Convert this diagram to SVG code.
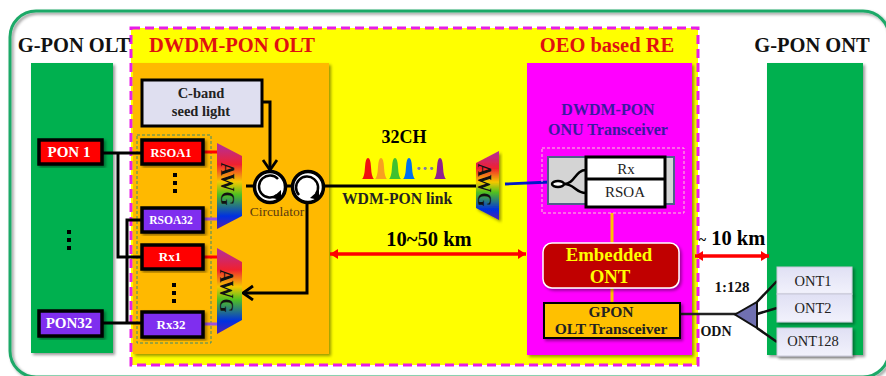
<svg xmlns="http://www.w3.org/2000/svg" xmlns:xlink="http://www.w3.org/1999/xlink" width="886" height="376" viewBox="0 0 886 376">
<style>
text{font-family:"Liberation Serif","Times New Roman",serif;font-weight:700;text-anchor:middle}
.box{stroke:#000;stroke-width:3.5}
.red{fill:#f00}.pur{fill:#7f2fef}
.wt{fill:#fff;font-size:15px}
.wts{fill:#fff;font-size:12.5px}
.ln{fill:none;stroke:#000;stroke-width:3}
.awgt{font-size:18px;fill:#111}
.ont{fill:url(#og);stroke:#c8c8d8;stroke-width:1}
.title{font-size:20.5px}
.reg{font-weight:400;fill:#222}
.dot{fill:#000}
</style>
<defs>
<linearGradient id="rb" x1="0" y1="0" x2="0" y2="1">
<stop offset="0" stop-color="#b02fa0"/><stop offset=".25" stop-color="#f02030"/><stop offset=".45" stop-color="#f5c800"/><stop offset=".6" stop-color="#50c020"/><stop offset=".85" stop-color="#0030e0"/><stop offset="1" stop-color="#5020b0"/>
</linearGradient>
<linearGradient id="og" x1="0" y1="0" x2="0" y2="1"><stop offset="0" stop-color="#e0e0f4"/><stop offset="1" stop-color="#f2f2fc"/></linearGradient>
<filter id="sh" x="-10%" y="-10%" width="125%" height="125%"><feDropShadow dx="2" dy="2" stdDeviation="1.5" flood-color="#000" flood-opacity=".4"/></filter>
<marker id="ah" markerWidth="14" markerHeight="18" refX="11" refY="8" orient="auto" markerUnits="userSpaceOnUse"><path d="M1 1L11 8L1 15" fill="none" stroke="#000" stroke-width="2.8"/></marker>
<marker id="re" markerWidth="10" markerHeight="12" refX="8" refY="5" orient="auto-start-reverse" markerUnits="userSpaceOnUse"><path d="M0 0L8 5L0 10z" fill="#f00"/></marker>
<path id="peak" d="M0 21Q2.500 19 3 9Q3.500 0 6 0Q8.500 0 9 9Q9.500 19 12 21z"/>
</defs>
<rect width="886" height="376" fill="#fff"/>
<rect id="frame" x="10" y="11" width="879" height="366" rx="26" fill="none" stroke="#1fa968" stroke-width="3" filter="url(#sh)"/>
<g id="dwdm-region">
<rect x="131" y="28" width="567" height="337" fill="#ff0" stroke="#e81ce8" stroke-width="3" stroke-dasharray="9 5"/>
</g>
<g id="gpon-olt">
<rect x="31" y="63" width="82" height="290" fill="#00b050" filter="url(#sh)"/>
<text class="title" x="74" y="52" fill="#111">G-PON OLT</text>
<rect class="dot" x="67" y="230" width="4" height="4"/><rect class="dot" x="67" y="238" width="4" height="4"/><rect class="dot" x="67" y="246" width="4" height="4"/>
</g>
<g id="dwdm-olt">
<rect x="133" y="63" width="196" height="291" fill="#ffb900" filter="url(#sh)"/>
<text class="title" x="232" y="52" fill="#e01010">DWDM-PON OLT</text>
<rect x="137" y="135" width="74" height="208" fill="none" stroke="#3a8a70" stroke-dasharray="3 2"/>
</g>
<g id="oeo-re">
<rect x="527" y="63" width="165" height="292" fill="#f0f" filter="url(#sh)"/>
<text class="title" x="607" y="52" fill="#e01010">OEO based RE</text>
<text x="608" y="115" font-size="16" fill="#3a1aa0">DWDM-PON</text>
<text x="608" y="135" font-size="16" fill="#3a1aa0">ONU Transceiver</text>
</g>
<g id="gpon-ont">
<rect x="767" y="63" width="96" height="292" fill="#00b050" filter="url(#sh)"/>
<text class="title" x="812" y="52" fill="#111">G-PON ONT</text>
</g>
<g id="connectors">
<path class="ln" d="M103 153H142"/>
<path class="ln" d="M118 153V257H142"/>
<path class="ln" d="M103 323H142"/>
<path class="ln" d="M127 323V220H142"/>
<path d="M203 152H218M203 257H218" stroke="#f00" stroke-width="3"/>
<path d="M203 219H218M203 324H218" stroke="#9a50e0" stroke-width="3"/>
<path class="ln" d="M261 102H270V170" marker-end="url(#ah)"/>
<path class="ln" d="M246 186H256"/>
<path class="ln" d="M307 200V293H243" marker-end="url(#ah)"/>
<path class="ln" d="M322 186H476"/>
<path d="M505 184L550 182" stroke="#0018c8" stroke-width="2.8" fill="none"/>
<path d="M612 213V243M612 288V303" stroke="#ffc000" stroke-width="3"/>
<path d="M330 254H526" stroke="#f00" stroke-width="3.500" marker-start="url(#re)" marker-end="url(#re)"/>
<path d="M695 256H769" stroke="#f00" stroke-width="3.500" marker-start="url(#re)" marker-end="url(#re)"/>
<path d="M680 314H737" stroke="#222" stroke-width="2.5"/>
<path d="M757 302L777 281M757 314L777 308M757 328L777 342" stroke="#111" stroke-width="2.5" fill="none"/>
</g>
<g id="pon1"><rect class="box red" x="39" y="140" width="63" height="24" filter="url(#sh)"/><text class="wt" x="69" y="157">PON 1</text></g>
<g id="pon32"><rect class="box pur" x="39" y="311" width="63" height="25" filter="url(#sh)"/><text class="wt" x="69" y="328">PON32</text></g>
<g id="seed"><rect x="142" y="80" width="120" height="46" fill="#dfdff0" stroke="#000" stroke-width="3"/><text x="201" y="98" font-size="14.500" fill="#222">C-band</text><text x="201" y="116" font-size="14.500" fill="#222">seed light</text></g>
<g id="rsoa1"><rect class="box red" x="142" y="140" width="61" height="24" filter="url(#sh)"/><text class="wts" x="171" y="157">RSOA1</text></g>
<g id="rsoa32"><rect class="box pur" x="142" y="208" width="61" height="24" filter="url(#sh)"/><text class="wts" x="171" y="224" style="font-size:11.5px">RSOA32</text></g>
<g id="rx1"><rect class="box red" x="142" y="245" width="61" height="24" filter="url(#sh)"/><text class="wts" x="170" y="261" style="font-size:13px">Rx1</text></g>
<g id="rx32"><rect class="box pur" x="142" y="312" width="61" height="25" filter="url(#sh)"/><text class="wts" x="171" y="329" style="font-size:13px">Rx32</text></g>
<rect class="dot" x="173" y="173" width="4" height="4"/><rect class="dot" x="173" y="181" width="4" height="4"/><rect class="dot" x="173" y="189" width="4" height="4"/>
<rect class="dot" x="172" y="283" width="4" height="4"/><rect class="dot" x="172" y="291" width="4" height="4"/><rect class="dot" x="172" y="299" width="4" height="4"/>
<g id="awg1"><path d="M217 143L242 156V216L217 229z" fill="url(#rb)"/><text class="awgt" transform="translate(221 184) rotate(90)">AWG</text></g>
<g id="awg2"><path d="M217 248L242 262V320L217 334z" fill="url(#rb)"/><text class="awgt" transform="translate(220 291) rotate(90)">AWG</text></g>
<g id="awg3"><path d="M476 163L499 151V220L476 208z" fill="url(#rb)" filter="url(#sh)"/><text class="awgt" transform="translate(478 185) rotate(90)">AWG</text></g>
<g id="circulator1"><circle cx="270" cy="187" r="15.500" fill="#fff" stroke="#000" stroke-width="3.500"/><path d="M278 179A11 11 0 1 0 277 195" fill="none" stroke="#000" stroke-width="2.500"/><path d="M281 190L281 200L272 198z" fill="#000"/></g>
<g id="circulator2"><circle cx="308" cy="187" r="15.500" fill="#fff" stroke="#000" stroke-width="3.500"/><path d="M299 195A11 11 0 1 1 316 194" fill="none" stroke="#000" stroke-width="2.500"/><path d="M319 190L319 200L310 198z" fill="#000"/></g>
<path d="M285 186H293" stroke="#000" stroke-width="3"/>
<text x="277" y="216" font-size="13.500" fill="#5a3a10" style="font-weight:400">Circulator</text>
<g id="spectrum">
<use href="#peak" xlink:href="#peak" x="362" y="158" fill="#f01010"/>
<use href="#peak" xlink:href="#peak" x="375" y="158" fill="#f8a020"/>
<use href="#peak" xlink:href="#peak" x="389" y="158" fill="#40c030"/>
<use href="#peak" xlink:href="#peak" x="403" y="158" fill="#0070f0"/>
<use href="#peak" xlink:href="#peak" x="434" y="158" fill="#902090"/>
<text x="425" y="175" font-size="19" fill="#7a7ab0">···</text>
</g>
<text x="404" y="143" font-size="18" fill="#000">32CH</text>
<text x="397" y="204" font-size="15.700" fill="#222">WDM-PON link</text>
<text x="429" y="246" font-size="20.500" fill="#000">10~50 km</text>
<g id="onu-transceiver">
<rect x="542" y="148" width="142" height="65" fill="none" stroke="#f8d0d0" stroke-dasharray="3 2"/>
<rect x="548" y="157" width="126" height="47" fill="#d4d4d4" stroke="#50608a" stroke-width="2"/>
<ellipse cx="558" cy="184" rx="6" ry="3" fill="#fff" stroke="#000" stroke-width="2.500"/>
<path d="M564 184C575 184 575 170 586 170M564 184C575 184 575 193 586 193" fill="none" stroke="#000" stroke-width="2.500"/>
<rect x="586" y="157" width="79" height="50" fill="#fff" stroke="#000" stroke-width="3"/>
<path d="M586 179H665" stroke="#000" stroke-width="3"/>
<text class="reg" x="626" y="174" font-size="15">Rx</text>
<text class="reg" x="625" y="197" font-size="15">RSOA</text>
</g>
<g id="embedded-ont"><rect x="543" y="243" width="136" height="45" rx="9" fill="#c00000" stroke="#fff" stroke-width="1.500" filter="url(#sh)"/><text x="609" y="261" font-size="18.800" fill="#ff0">Embedded</text><text x="610" y="283" font-size="18.800" fill="#ff0">ONT</text></g>
<g id="gpon-tx"><rect x="544" y="303" width="136" height="35" fill="#ffc000" stroke="#000" stroke-width="2" filter="url(#sh)"/><text x="611" y="317" font-size="15.500" fill="#222">GPON</text><text x="611" y="334" font-size="15.500" fill="#222">OLT Transceiver</text></g>
<text x="732" y="245" font-size="20.500" fill="#000"><tspan font-size="14">~</tspan> 10 km</text>
<text x="732" y="292" font-size="15" fill="#111">1:128</text>
<text x="716" y="336" font-size="14" fill="#111">ODN</text>
<g id="splitter"><path d="M735 314.500L757 302V328z" fill="#7070b0" stroke="#111" stroke-width="2"/></g>
<g id="ont1"><rect class="ont" x="777" y="267" width="75" height="27" filter="url(#sh)"/><text class="reg" x="813" y="286" font-size="14.500">ONT1</text></g>
<g id="ont2"><rect class="ont" x="777" y="294" width="75" height="28" filter="url(#sh)"/><text class="reg" x="813" y="313" font-size="14.500">ONT2</text></g>
<g id="ont128"><rect class="ont" x="777" y="328" width="75" height="28" filter="url(#sh)"/><text class="reg" x="813" y="346" font-size="14.500">ONT128</text></g>
</svg>
